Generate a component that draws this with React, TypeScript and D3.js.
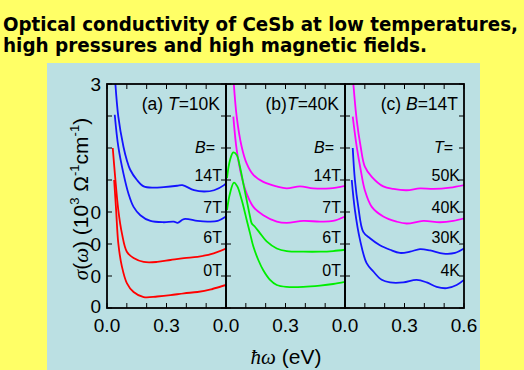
import * as d3 from "d3";

// sigma(omega) curves, offset like the original figure, x in eV
const panelA_14T: [number, number][] = [
  [0.038, 3.7], [0.057, 2.99], [0.083, 2.52], [0.1, 2.31], [0.117, 2.16], [0.151, 2.0],
  [0.185, 1.9], [0.235, 1.88], [0.286, 1.89], [0.354, 1.91], [0.38, 1.92], [0.439, 1.84],
  [0.49, 1.82], [0.54, 1.84], [0.59, 1.92], [0.6, 1.95],
];
const panelA_7T: [number, number][] = [
  [0.039, 3.02], [0.057, 2.52], [0.083, 2.1], [0.108, 1.79], [0.134, 1.58], [0.168, 1.45],
  [0.219, 1.36], [0.286, 1.34], [0.337, 1.35], [0.356, 1.33], [0.388, 1.39], [0.456, 1.36],
  [0.507, 1.35], [0.558, 1.36], [0.6, 1.43],
];
const panelA_6T: [number, number][] = [
  [0.029, 2.5], [0.041, 2.05], [0.057, 1.53], [0.075, 1.17], [0.1, 0.88], [0.134, 0.78],
  [0.185, 0.72], [0.253, 0.72], [0.32, 0.75], [0.388, 0.78], [0.456, 0.8], [0.524, 0.84],
  [0.6, 0.93],
];
const panelA_0T: [number, number][] = [
  [0.036, 2.0], [0.046, 1.53], [0.057, 1.01], [0.075, 0.65], [0.1, 0.39], [0.134, 0.25],
  [0.185, 0.17], [0.253, 0.18], [0.32, 0.2], [0.388, 0.23], [0.456, 0.25], [0.524, 0.29],
  [0.6, 0.36],
];

const panelB_14T: [number, number][] = [
  [0.035, 3.7], [0.054, 2.99], [0.079, 2.52], [0.104, 2.26], [0.138, 2.08], [0.188, 1.97],
  [0.256, 1.9], [0.306, 1.87], [0.373, 1.9], [0.44, 1.87], [0.524, 1.87], [0.6, 1.91],
];
const panelB_7T: [number, number][] = [
  [0.037, 2.99], [0.054, 2.47], [0.079, 2.05], [0.104, 1.79], [0.138, 1.58], [0.188, 1.45],
  [0.256, 1.35], [0.306, 1.33], [0.39, 1.36], [0.474, 1.35], [0.54, 1.36], [0.6, 1.43],
];
const panelB_6T: [number, number][] = [
  [0.005, 2.03], [0.02, 2.31], [0.037, 2.43], [0.054, 2.39], [0.07, 2.21], [0.087, 1.95],
  [0.104, 1.69], [0.121, 1.43], [0.13, 1.32], [0.146, 1.27], [0.171, 1.17], [0.205, 1.04],
  [0.256, 0.93], [0.306, 0.89], [0.39, 0.88], [0.474, 0.88], [0.54, 0.89], [0.6, 0.91],
];
const panelB_0T: [number, number][] = [
  [0.005, 1.53], [0.02, 1.79], [0.04, 1.96], [0.057, 1.9], [0.079, 1.69], [0.104, 1.38],
  [0.121, 1.17], [0.138, 0.96], [0.163, 0.75], [0.188, 0.59], [0.222, 0.44], [0.256, 0.36],
  [0.306, 0.33], [0.39, 0.33], [0.474, 0.35], [0.54, 0.375], [0.6, 0.41],
];

const panelC_50K: [number, number][] = [
  [0.037, 3.7], [0.059, 2.94], [0.079, 2.52], [0.1, 2.21], [0.135, 2.05], [0.193, 1.9],
  [0.244, 1.86], [0.311, 1.84], [0.378, 1.87], [0.445, 1.86], [0.53, 1.88], [0.6, 1.92],
];
const panelC_40K: [number, number][] = [
  [0.039, 2.99], [0.059, 2.52], [0.079, 2.16], [0.1, 1.84], [0.135, 1.58], [0.193, 1.43],
  [0.26, 1.35], [0.311, 1.32], [0.395, 1.36], [0.479, 1.34], [0.546, 1.36], [0.6, 1.4],
];
const panelC_30K: [number, number][] = [
  [0.039, 2.5], [0.05, 2.0], [0.067, 1.58], [0.092, 1.19], [0.126, 1.09], [0.176, 0.98],
  [0.227, 0.91], [0.277, 0.86], [0.328, 0.88], [0.378, 0.92], [0.429, 0.9], [0.496, 0.85],
  [0.555, 0.86], [0.6, 0.93],
];
const panelC_4K: [number, number][] = [
  [0.034, 2.0], [0.05, 1.53], [0.076, 1.06], [0.109, 0.7], [0.143, 0.57], [0.185, 0.44],
  [0.227, 0.4], [0.294, 0.4], [0.361, 0.44], [0.412, 0.4], [0.462, 0.33], [0.513, 0.31],
  [0.563, 0.36], [0.6, 0.44],
];

const xTickValues = [0, 0.1, 0.2, 0.3, 0.4, 0.5, 0.6];
const yTickValues = [0, 0.5, 1, 1.5, 2, 2.5, 3, 3.5];
const yTickLabels = ["0", "0", "0", "0", "", "", "", "3"];
const curveLabelLevels = [1.98, 1.48, 1.01, 0.5];

const BLUE = "#1414ff";
const RED = "#ff0000";
const GREEN = "#00ee00";
const MAGENTA = "#ff00ff";

interface Panel {
  tag: string;
  tagVar: string;
  tagValue: string;
  keyVar: string;
  curves: { data: [number, number][]; color: string }[];
  labels: string[];
}

const panels: Panel[] = [
  {
    tag: "(a) ", tagVar: "T", tagValue: "=10K", keyVar: "B",
    curves: [
      { data: panelA_14T, color: BLUE }, { data: panelA_7T, color: BLUE },
      { data: panelA_6T, color: RED }, { data: panelA_0T, color: RED },
    ],
    labels: ["14T", "7T", "6T", "0T"],
  },
  {
    tag: "(b)", tagVar: "T", tagValue: "=40K", keyVar: "B",
    curves: [
      { data: panelB_14T, color: MAGENTA }, { data: panelB_7T, color: MAGENTA },
      { data: panelB_6T, color: GREEN }, { data: panelB_0T, color: GREEN },
    ],
    labels: ["14T", "7T", "6T", "0T"],
  },
  {
    tag: "(c) ", tagVar: "B", tagValue: "=14T", keyVar: "T",
    curves: [
      { data: panelC_50K, color: MAGENTA }, { data: panelC_40K, color: MAGENTA },
      { data: panelC_30K, color: BLUE }, { data: panelC_4K, color: BLUE },
    ],
    labels: ["50K", "40K", "30K", "4K"],
  },
];

const W = 524;
const H = 370;
const left = 107;
const right = 464;
const top = 84;
const bottom = 308;
const panelW = (right - left) / panels.length;
const sans = "Arial, 'Liberation Sans', sans-serif";
const serif = "'Liberation Serif', 'Times New Roman', serif";

export default function App() {
  const y = d3.scaleLinear().domain([0, 3.5]).range([bottom, top]);

  return (
    <svg width={W} height={H} style={{ position: "absolute", left: 0, top: 0 }}>
      <rect width={W} height={H} fill="#ffff66" />
      <rect x={47} y={63} width={433} height={H - 63} fill="#bbe0e3" />

      <g fontFamily="'DejaVu Sans', Verdana, sans-serif" fontWeight="bold" fontSize={19} style={{ fontStretch: "condensed" }}>
        <text x={3} y={31} textLength={515} lengthAdjust="spacingAndGlyphs">
          Optical conductivity of CeSb at low temperatures,
        </text>
        <text x={3} y={52} textLength={424} lengthAdjust="spacingAndGlyphs">
          high pressures and high magnetic fields.
        </text>
      </g>

      <defs>
        {panels.map((_, i) => (
          <clipPath id={`clip${i}`} key={i}>
            <rect x={left + i * panelW} y={top} width={panelW} height={bottom - top} />
          </clipPath>
        ))}
      </defs>

      {panels.map((p, i) => {
        const x0 = left + i * panelW;
        const x = d3.scaleLinear().domain([0, 0.6]).range([x0, x0 + panelW]);
        const line = d3
          .line<[number, number]>()
          .x((d) => x(d[0]))
          .y((d) => y(d[1]))
          .curve(d3.curveCatmullRom.alpha(0.5));
        return (
          <g key={i}>
            <g clipPath={`url(#clip${i})`}>
              {p.curves.map((c, j) => (
                <path key={j} d={line(c.data) ?? ""} fill="none" stroke={c.color} strokeWidth={1.8} />
              ))}
            </g>
            {xTickValues.map((t) => (
              <g key={t} stroke="#000" strokeWidth={1}>
                <line x1={x(t)} x2={x(t)} y1={bottom} y2={bottom - 5} />
                <line x1={x(t)} x2={x(t)} y1={top} y2={top + 5} />
              </g>
            ))}
            {yTickValues.map((t) => (
              <g key={t} stroke="#000" strokeWidth={1}>
                <line x1={x0} x2={x0 + 5} y1={y(t)} y2={y(t)} />
                <line x1={x0 + panelW} x2={x0 + panelW - 5} y1={y(t)} y2={y(t)} />
              </g>
            ))}
            <rect x={x0} y={top} width={panelW} height={bottom - top} fill="none" stroke="#000" strokeWidth={1.8} />
            {xTickValues
              .filter((t) => t === 0 || t === 0.3 || (t === 0.6 && i === panels.length - 1))
              .map((t) => (
                <text key={t} x={x(t)} y={332} textAnchor="middle" fontFamily={sans} fontSize={19}>
                  {d3.format(".1f")(t)}
                </text>
              ))}
            <text x={x0 + panelW - 6} y={110} textAnchor="end" fontFamily={sans} fontSize={17.5}>
              {p.tag}
              <tspan fontStyle="italic">{p.tagVar}</tspan>
              {p.tagValue}
            </text>
            <text x={x0 + panelW - 11} y={y(2.42)} textAnchor="end" fontFamily={sans} fontSize={16}>
              <tspan fontStyle="italic">{p.keyVar}</tspan>=
            </text>
            {p.labels.map((l, j) => (
              <text key={l} x={x0 + panelW - 4} y={y(curveLabelLevels[j])} textAnchor="end" fontFamily={sans} fontSize={16}>
                {l}
              </text>
            ))}
          </g>
        );
      })}

      {yTickValues.map((t, k) => (
        <text key={t} x={101} y={y(t) + (k === 0 ? 5 : 7)} textAnchor="end" fontFamily={sans} fontSize={19}>
          {yTickLabels[k]}
        </text>
      ))}

      <text transform={`translate(88,199) rotate(-90)`} textAnchor="middle" fontFamily={sans} fontSize={21}>
        <tspan fontFamily={serif} fontStyle="italic">σ</tspan>
        <tspan>(</tspan>
        <tspan fontFamily={serif} fontStyle="italic">ω</tspan>
        <tspan>)  (10</tspan>
        <tspan fontSize={13} dy={-9}>3</tspan>
        <tspan dy={9}> Ω</tspan>
        <tspan fontSize={13} dy={-9}>-1</tspan>
        <tspan dy={9}>cm</tspan>
        <tspan fontSize={13} dy={-9}>-1</tspan>
        <tspan dy={9}>)</tspan>
      </text>

      <text x={286} y={364} textAnchor="middle" fontFamily={sans} fontSize={21}>
        <tspan fontFamily={serif} fontStyle="italic">ħω</tspan>
        <tspan>  (eV)</tspan>
      </text>
    </svg>
  );
}
